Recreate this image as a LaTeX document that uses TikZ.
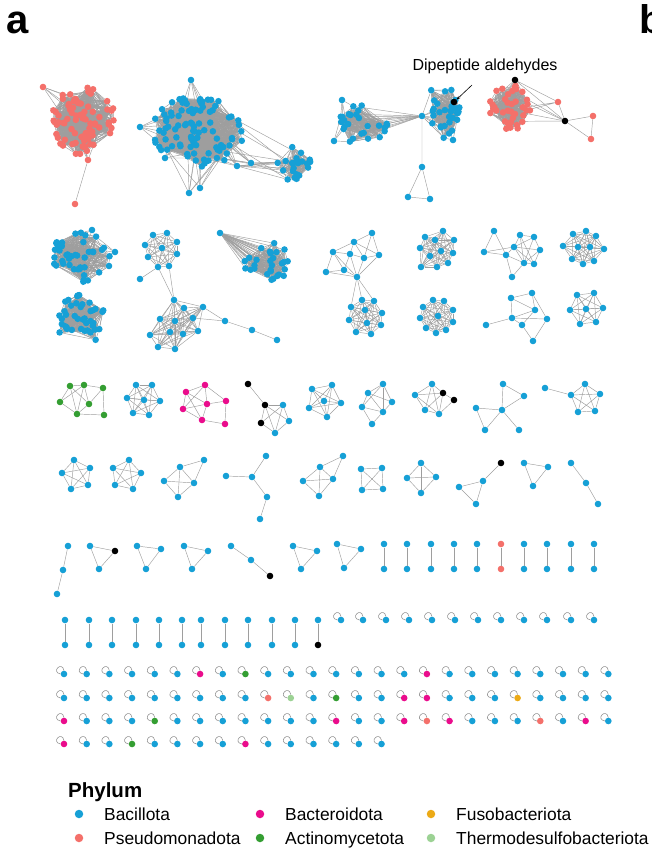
\documentclass[tikz,border=0pt]{standalone}
\usepackage{fontspec}
\setmainfont{Liberation Sans}
\usetikzlibrary{arrows.meta, backgrounds}
\definecolor{Bac}{RGB}{22,160,214}
\definecolor{Pse}{RGB}{244,112,106}
\definecolor{Bct}{RGB}{234,12,140}
\definecolor{Act}{RGB}{52,158,50}
\definecolor{Fus}{RGB}{236,170,22}
\definecolor{Thm}{RGB}{156,210,148}
\definecolor{EG}{RGB}{158,158,158}

% Macro: \netblob{name}{n}{cx}{cy}{rx}{ry}{k}{style}
% n nodes at random spots of an ellipse, node i linked to the k next ones
\newcommand{\netblob}[8]{%
  \foreach \i in {1,...,#2}{%
    \pgfmathsetmacro{\rr}{sqrt(rnd)}\pgfmathsetmacro{\aa}{360*rnd}%
    \node[#8] (#1\i) at ({#3+#5*\rr*cos(\aa)},{#4+#6*\rr*sin(\aa)}) {};}
  \begin{scope}[on background layer]
  \foreach \i in {1,...,#2}{\foreach \d in {1,...,#7}{%
    \pgfmathtruncatemacro{\j}{mod(\i+\d-1,#2)+1}%
    \draw[lnk] (#1\i) -- (#1\j);}}
  \end{scope}}
% Macro: \allpairs{name}{n} links every pair of name1..name n
\newcommand{\allpairs}[2]{%
  \begin{scope}[on background layer]
  \foreach \i in {1,...,#2}{\foreach \j in {1,...,#2}{%
    \ifnum\i<\j \draw[lnk] (#1\i) -- (#1\j);\fi}}
  \end{scope}}

\begin{document}
\begin{tikzpicture}[x=1pt, y=-1pt,
  nd/.style={circle, inner sep=0pt, minimum size=6.6pt, fill=Bac},
  rn/.style={nd, fill=Pse},
  kn/.style={nd, fill=black},
  mn/.style={nd, fill=Bct},
  gn/.style={nd, fill=Act},
  lnk/.style={draw=EG, line width=0.45pt},
  slp/.style={draw=EG!90!black, line width=0.55pt},
  lgd/.style={circle, inner sep=0pt, minimum size=8.5pt},
  lgt/.style={font=\fontsize{17.4}{20}\selectfont, anchor=base west, inner sep=0pt}
]
\useasboundingbox (0,0) rectangle (652,852);
\pgfmathsetseed{11}

% panel letters
\node[font=\fontsize{40}{40}\selectfont\bfseries, anchor=base west, inner sep=0pt] (pa) at (6,33) {a};
\node[font=\fontsize{40}{40}\selectfont\bfseries, anchor=base west, inner sep=0pt] (pb) at (639,33) {b};

% ---- row 1: large components
\netblob{rbig}{80}{82}{119}{33}{36}{15}{rn}
\node[rn] (rtl) at (43,87) {};
\node[rn] (rbt) at (88,160) {};
\node[rn] (rpd) at (75,204) {};
\begin{scope}[on background layer]
\foreach \i in {1,...,5}{\draw[lnk] (rtl)--(rbig\i); \draw[lnk] (rbt)--(rbig\i);}
\draw[lnk] (rbt)--(rpd);
\end{scope}

\netblob{bbig}{95}{198}{130}{46}{37}{15}{nd}
\netblob{bsat}{22}{292}{163}{19}{17}{10}{nd}
\foreach \n/\x/\y in {1/191/80,2/140/127,3/189/193,4/200/188,5/165/158,6/237/166,7/251/163}
  \node[nd] (bx\n) at (\x,\y) {};
\begin{scope}[on background layer]
\foreach \n in {1,...,7}{\foreach \i in {1,...,6}{\draw[lnk] (bx\n)--(bbig\i);}}
\foreach \i in {1,...,4}{\draw[lnk] (bx7)--(bsat\i);}
\foreach \i in {5,...,10}{\draw[lnk] (bx6)--(bsat\i); \draw[lnk] (bbig\i)--(bsat\i);}
\end{scope}

\netblob{bmid}{26}{363}{125}{26}{21}{10}{nd}
\netblob{bblk}{32}{443}{110}{20}{28}{12}{nd}
\node[nd] (mx1) at (342,100) {};
\node[nd] (mx2) at (334,141) {};
\node[nd] (kx1) at (453,140) {};
\node[kn] (dpa) at (454,102) {};
\node[nd] (brg) at (422,116) {};
\node[nd] (tp1) at (422,167) {};
\node[nd] (tp2) at (408,197) {};
\node[nd] (tp3) at (430,199) {};
\begin{scope}[on background layer]
\foreach \i in {1,...,4}{\draw[lnk] (mx1)--(bmid\i); \draw[lnk] (mx2)--(bmid\i);}
\foreach \i in {1,...,6}{\draw[lnk] (dpa)--(bblk\i);}
\foreach \i in {7,...,9}{\draw[lnk] (kx1)--(bblk\i);}
\foreach \i in {1,...,12}{\draw[lnk] (brg)--(bmid\i);}
\foreach \i in {1,...,8}{\draw[lnk] (brg)--(bblk\i);}
\draw[lnk] (brg)--(tp1) (tp1)--(tp2) (tp1)--(tp3) (tp2)--(tp3);
\end{scope}

\netblob{rmid}{38}{510}{108}{21}{24}{12}{rn}
\node[kn] (rk1) at (515,80) {};
\node[kn] (rk2) at (565,121) {};
\node[rn] (rr1) at (558,102) {};
\node[rn] (rr2) at (593,116) {};
\node[rn] (rr3) at (591,139) {};
\begin{scope}[on background layer]
\foreach \i in {1,...,5}{\draw[lnk] (rk1)--(rmid\i);}
\foreach \i in {6,...,9}{\draw[lnk] (rk2)--(rmid\i);}
\draw[lnk] (rmid10)--(rr1) (rmid11)--(rr1);
\draw[lnk] (rk1)--(rr1) (rk1)--(rk2) (rr1)--(rk2) (rk2)--(rr2) (rk2)--(rr3) (rr2)--(rr3);
\end{scope}

% label
\node[font=\fontsize{16}{19}\selectfont, inner sep=0pt] (lbl) at (485,66) {Dipeptide aldehydes};
\coordinate (atl) at (472,85);
\draw[-{Stealth[length=4pt,width=3pt]}, line width=0.6pt] (atl) -- (dpa);

% ---- row 2
\netblob{ba}{42}{82}{256}{32}{26}{12}{nd}
\node[nd] (ax1) at (115,252) {};
\node[nd] (ax2) at (92,230) {};
\begin{scope}[on background layer]
\foreach \i in {1,...,4}{\draw[lnk] (ax1)--(ba\i); \draw[lnk] (ax2)--(ba\i);}
\end{scope}
\netblob{bb}{40}{80}{320}{26}{25}{12}{nd}
\netblob{bd}{28}{268}{262}{24}{20}{9}{nd}
\node[nd] (d0) at (220,233) {};
\begin{scope}[on background layer]
\foreach \i in {1,...,28}{\draw[lnk] (d0)--(bd\i);}
\end{scope}

\foreach \n/\x/\y in {1/153/235,2/167/233,3/177/242,4/145/245,5/162/248,6/177/254,7/148/257,8/158/267,9/169/266}
  \node[nd] (cb\n) at (\x,\y) {};
\allpairs{cb}{9}
\node[nd] (cbp) at (140,279) {};
\foreach \n/\x/\y in {1/174/300,2/184/308,3/203/307,4/160/319,5/175/321,6/193/318,7/198/331,8/150/335,9/170/332,10/183/334,11/158/347,12/175/349,13/225/321,14/252/330,15/277/340}
  \node[nd] (cc\n) at (\x,\y) {};
\allpairs{cc}{12}
\begin{scope}[on background layer]
\draw[lnk] (cbp)--(cb8) (cb8)--(cc1) (cb9)--(cc1);
\draw[lnk] (cc3)--(cc13) (cc6)--(cc13) (cc13)--(cc14) (cc14)--(cc15);
\end{scope}

\foreach \n/\x/\y in {1/372/233,2/354/242,3/333/252,4/350/254,5/364/258,6/379/255,7/326/272,8/344/270,9/357/277}
  \node[nd] (ce\n) at (\x,\y) {};
\foreach \n/\x/\y in {1/362/300,2/374/301,3/351/307,4/365/310,5/382/313,6/349/320,7/367/323,8/381/325,9/356/332,10/371/334}
  \node[nd] (cf\n) at (\x,\y) {};
\allpairs{cf}{10}
\begin{scope}[on background layer]
\foreach \a/\b in {1/2,1/6,1/5,2/3,2/4,2/5,2/6,3/4,3/7,3/8,3/9,4/5,4/8,4/9,5/6,5/9,6/9,7/8,7/9,8/9}
  \draw[lnk] (ce\a)--(ce\b);
\draw[lnk] (ce9)--(cf1) (ce9)--(cf2) (ce9)--(cf3);
\end{scope}

\foreach \n/\x/\y in {1/443/231,2/425/237,3/435/240,4/454/240,5/420/248,6/430/256,7/441/251,8/453/253,9/448/263,10/437/267,11/421/267}
  \node[nd] (cg\n) at (\x,\y) {};
\allpairs{cg}{11}
\foreach \n/\x/\y in {1/433/300,2/444/301,3/423/307,4/453/310,5/420/318,6/438/316,7/453/322,8/426/328,9/436/333,10/446/330}
  \node[nd] (ch\n) at (\x,\y) {};
\allpairs{ch}{10}

\foreach \n/\x/\y in {1/494/231,2/484/252,3/506/255,4/514/247,5/520/235,6/534/237,7/540/250,8/524/263,9/534/264,10/512/277}
  \node[nd] (ci\n) at (\x,\y) {};
\begin{scope}[on background layer]
\foreach \a/\b in {1/2,1/3,2/4,2/3,3/4,3/10,3/8,4/5,4/6,4/7,4/8,4/9,5/6,5/8,5/9,6/7,6/8,7/8,7/9,8/9,8/10}
  \draw[lnk] (ci\a)--(ci\b);
\end{scope}
\foreach \n/\x/\y in {1/573/234,2/586/231,3/596/236,4/563/246,5/578/247,6/590/247,7/604/249,8/572/259,9/583/264,10/594/261}
  \node[nd] (cj\n) at (\x,\y) {};
\allpairs{cj}{10}

\foreach \n/\x/\y in {1/511/298,2/532/293,3/535/310,4/512/318,5/547/319,6/522/325,7/533/341,8/486/325}
  \node[nd] (ck\n) at (\x,\y) {};
\begin{scope}[on background layer]
\foreach \a/\b in {1/2,1/3,1/4,2/3,2/5,3/4,3/6,4/6,4/8,4/5,5/7,6/7}
  \draw[lnk] (ck\a)--(ck\b);
\end{scope}
\foreach \n/\x/\y in {1/577/295,2/594/293,3/570/310,4/586/309,5/603/308,6/580/324,7/596/322}
  \node[nd] (cl\n) at (\x,\y) {};
\allpairs{cl}{7}

% ---- row 3
\foreach \n/\x/\y in {1/70/386,2/84/385,3/103/388,4/60/402,5/89/404,6/77/414,7/104/415}
  \node[gn] (gr\n) at (\x,\y) {};
\begin{scope}[on background layer]
\foreach \a/\b in {1/2,2/3,1/4,1/5,1/6,2/4,2/6,4/6,5/6,3/5,3/7,6/7,2/5}
  \draw[lnk] (gr\a)--(gr\b);
\end{scope}
\foreach \n/\x/\y in {1/136/385,2/152/385,3/127/398,4/144/400,5/160/401,6/133/413,7/149/415}
  \node[nd] (mb\n) at (\x,\y) {};
\allpairs{mb}{7}
\foreach \n/\x/\y in {1/205/385,2/186/392,3/226/401,4/207/404,5/183/409,6/202/420,7/225/424}
  \node[mn] (mg\n) at (\x,\y) {};
\begin{scope}[on background layer]
\foreach \a/\b in {1/2,1/3,1/4,1/5,2/4,2/5,2/6,3/4,3/7,4/5,4/6,5/6,6/7}
  \draw[lnk] (mg\a)--(mg\b);
\end{scope}
\node[kn] (ok1) at (248,384) {};
\node[kn] (ok2) at (265,405) {};
\node[nd] (ok3) at (283,405) {};
\node[kn] (ok4) at (261,423) {};
\node[nd] (ok5) at (289,421) {};
\node[nd] (ok6) at (275,433) {};
\begin{scope}[on background layer]
\foreach \a/\b in {1/2,2/3,2/4,2/5,2/6,3/4,3/5,3/6,4/6,5/6}
  \draw[lnk] (ok\a)--(ok\b);
\end{scope}
\foreach \n/\x/\y in {1/332/385,2/312/389,3/324/401,4/341/403,5/309/408,6/327/417}
  \node[nd] (cn\n) at (\x,\y) {};
\allpairs{cn}{6}
\foreach \n/\x/\y in {1/383/384,2/368/393,3/392/402,4/362/407,5/383/412,6/372/424}
  \node[nd] (co\n) at (\x,\y) {};
\begin{scope}[on background layer]
\foreach \a/\b in {1/2,1/3,1/5,1/4,2/3,2/4,2/5,3/5,4/5,4/6,5/6}
  \draw[lnk] (co\a)--(co\b);
\end{scope}
\node[nd] (cp1) at (432,384) {};
\node[nd] (cp2) at (415,395) {};
\node[kn] (cp3) at (443,393) {};
\node[nd] (cp4) at (425,410) {};
\node[nd] (cp5) at (439,414) {};
\node[kn] (cp6) at (454,400) {};
\allpairs{cp}{5}
\begin{scope}[on background layer]
\draw[lnk] (cp6)--(cp3) (cp6)--(cp5);
\end{scope}
\foreach \n/\x/\y in {1/503/384,2/524/396,3/476/408,4/502/410,5/485/430,6/519/430}
  \node[nd] (cq\n) at (\x,\y) {};
\begin{scope}[on background layer]
\foreach \a/\b in {1/2,1/4,2/4,3/4,3/5,4/5,4/6}
  \draw[lnk] (cq\a)--(cq\b);
\end{scope}
\foreach \n/\x/\y in {1/571/395,2/585/384,3/600/394,4/578/412,5/595/411,6/545/388}
  \node[nd] (cr\n) at (\x,\y) {};
\allpairs{cr}{5}
\begin{scope}[on background layer]
\draw[lnk] (cr6)--(cr1);
\end{scope}

% ---- row 4
\foreach \n/\x/\y in {1/74/460,2/90/468,3/62/473,4/71/489,5/88/485}
  \node[nd] (sa\n) at (\x,\y) {};
\allpairs{sa}{5}
\foreach \n/\x/\y in {1/129/460,2/113/468,3/141/473,4/115/485,5/133/489}
  \node[nd] (sb\n) at (\x,\y) {};
\allpairs{sb}{5}
\foreach \n/\x/\y in {1/204/460,2/180/467,3/164/481,4/194/483,5/178/497}
  \node[nd] (sc\n) at (\x,\y) {};
\foreach \n/\x/\y in {1/266/456,2/252/477,3/226/476,4/267/497,5/260/519}
  \node[nd] (sd\n) at (\x,\y) {};
\foreach \n/\x/\y in {1/343/456,2/320/467,3/303/481,4/333/479,5/319/496}
  \node[nd] (se\n) at (\x,\y) {};
\begin{scope}[on background layer]
\foreach \a/\b in {1/2,1/4,2/3,2/4,2/5,3/4,3/5,4/5}
  {\draw[lnk] (sc\a)--(sc\b); \draw[lnk] (se\a)--(se\b);}
\draw[lnk] (sd1)--(sd2) (sd2)--(sd3) (sd2)--(sd4) (sd4)--(sd5);
\end{scope}
\foreach \n/\x/\y in {1/361/469,2/382/468,3/362/490,4/383/489}
  \node[nd] (sf\n) at (\x,\y) {};
\allpairs{sf}{4}
\foreach \n/\x/\y in {1/421/463,2/407/478,3/436/477,4/421/493}
  \node[nd] (sg\n) at (\x,\y) {};
\allpairs{sg}{4}
\node[kn] (sh1) at (501,463) {};
\node[nd] (sh2) at (483,481) {};
\node[nd] (sh3) at (459,487) {};
\node[nd] (sh4) at (476,504) {};
\foreach \n/\x/\y in {1/524/463,2/548/467,3/533/486}
  \node[nd] (si\n) at (\x,\y) {};
\allpairs{si}{3}
\foreach \n/\x/\y in {1/571/463,2/586/483,3/598/504}
  \node[nd] (sj\n) at (\x,\y) {};
\begin{scope}[on background layer]
\draw[lnk] (sh1)--(sh2) (sh2)--(sh3) (sh2)--(sh4) (sh3)--(sh4);
\draw[lnk] (sj1)--(sj2) (sj2)--(sj3);
\end{scope}

% ---- row 5
\foreach \n/\x/\y in {1/68/546,2/63/570,3/57/594}
  \node[nd] (ta\n) at (\x,\y) {};
\node[nd] (tb1) at (90,546) {};
\node[kn] (tb2) at (115,551) {};
\node[nd] (tb3) at (99,569) {};
\allpairs{tb}{3}
\foreach \n/\x/\y in {1/137/546,2/161/549,3/146/569}
  \node[nd] (tc\n) at (\x,\y) {};
\allpairs{tc}{3}
\foreach \n/\x/\y in {1/184/546,2/208/551,3/192/569}
  \node[nd] (td\n) at (\x,\y) {};
\allpairs{td}{3}
\node[nd] (te1) at (231,546) {};
\node[nd] (te2) at (251,560) {};
\node[kn] (te3) at (270,576) {};
\foreach \n/\x/\y in {1/293/546,2/317/551,3/301/569}
  \node[nd] (tf\n) at (\x,\y) {};
\allpairs{tf}{3}
\foreach \n/\x/\y in {1/337/544,2/361/549,3/344/568}
  \node[nd] (tg\n) at (\x,\y) {};
\allpairs{tg}{3}
\begin{scope}[on background layer]
\draw[lnk] (ta1)--(ta2) (ta2)--(ta3) (te1)--(te2) (te2)--(te3);
\end{scope}
\foreach \x/\c [count=\k] in {384/Bac,407/Bac,431/Bac,454/Bac,477/Bac,501/Pse,524/Bac,547/Bac,571/Bac,594/Bac}{
  \node[nd, fill=\c] (pat\k) at (\x,544) {};
  \node[nd, fill=\c] (pab\k) at (\x,569) {};
  \draw[lnk] (pat\k)--(pab\k);}

% ---- row 6
\foreach \x/\c [count=\k] in {65/Bac,89/Bac,112/Bac,136/Bac,159/Bac,182/Bac,201/Bac,225/Bac,248/Bac,272/Bac,295/Bac,318/black}{
  \node[nd] (qat\k) at (\x,620) {};
  \node[nd, fill=\c] (qab\k) at (\x,645) {};
  \draw[lnk] (qat\k)--(qab\k);}
\foreach \x [count=\k] in {341,363,386,409,432,455,478,501,524,547,571,594}{
  \node[nd] (la\k) at (\x,620) {};
  \draw[slp] (la\k.north) .. controls +(-2,-10) and +(-10,-2) .. (la\k.west);}

% ---- singletons with self loops
\foreach \c [count=\k from 0] in {Bac,Bac,Bac,Bac,Bac,Bac,Bct,Bac,Act,Bac,Bac,Bac,Bac,Bac,Bac,Bac,Bct,Bac,Bac,Bac,Bac,Bac,Bac,Bac,Bac}{
  \node[nd, fill=\c] (lb\k) at ({64+22.68*\k},674) {};
  \draw[slp] (lb\k.north) .. controls +(-2,-10) and +(-10,-2) .. (lb\k.west);}
\foreach \c [count=\k from 0] in {Bac,Bac,Bac,Bac,Bac,Bac,Bac,Bac,Bac,Pse,Thm,Bac,Act,Bac,Bac,Bct,Bct,Bac,Bac,Bac,Fus,Bac,Bac,Bac,Bac}{
  \node[nd, fill=\c] (lc\k) at ({64+22.68*\k},698) {};
  \draw[slp] (lc\k.north) .. controls +(-2,-10) and +(-10,-2) .. (lc\k.west);}
\foreach \c [count=\k from 0] in {Bct,Bac,Bac,Bac,Act,Bac,Bac,Bac,Bac,Bac,Bac,Bac,Bct,Bac,Bac,Bct,Pse,Bct,Bac,Bac,Bac,Pse,Bac,Bct,Bac}{
  \node[nd, fill=\c] (ld\k) at ({64+22.68*\k},721) {};
  \draw[slp] (ld\k.north) .. controls +(-2,-10) and +(-10,-2) .. (ld\k.west);}
\foreach \c [count=\k from 0] in {Bct,Bac,Bac,Act,Bac,Bac,Bac,Bac,Bct,Bac,Bac,Bac,Bac,Bac,Bac}{
  \node[nd, fill=\c] (le\k) at ({64+22.68*\k},744) {};
  \draw[slp] (le\k.north) .. controls +(-2,-10) and +(-10,-2) .. (le\k.west);}

% ---- legend
\node[font=\fontsize{20.5}{24}\selectfont\bfseries, anchor=base west, inner sep=0pt] (lgh) at (68,797) {Phylum};
\node[lgd, fill=Bac] (lg1) at (79,814) {};
\node[lgd, fill=Pse] (lg2) at (79,838) {};
\node[lgd, fill=Bct] (lg3) at (260,814) {};
\node[lgd, fill=Act] (lg4) at (260,838) {};
\node[lgd, fill=Fus] (lg5) at (431,814) {};
\node[lgd, fill=Thm] (lg6) at (431,838) {};
\node[lgt] (lt1) at (104,820) {Bacillota};
\node[lgt] (lt2) at (104,844) {Pseudomonadota};
\node[lgt] (lt3) at (285,820) {Bacteroidota};
\node[lgt] (lt4) at (285,844) {Actinomycetota};
\node[lgt] (lt5) at (456,820) {Fusobacteriota};
\node[lgt] (lt6) at (456,844) {Thermodesulfobacteriota};
\end{tikzpicture}
\end{document}
